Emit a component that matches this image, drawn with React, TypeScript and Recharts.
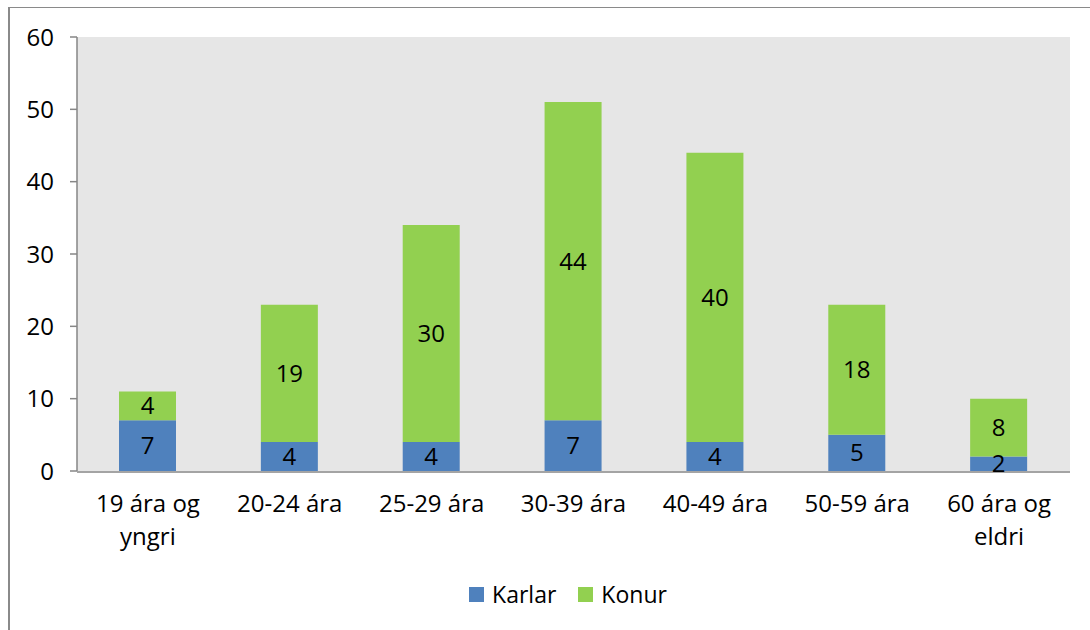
import { BarChart, Bar, XAxis, YAxis, CartesianGrid, Legend, LabelList } from 'recharts';

const FONT = '"Open Sans", "Noto Sans", sans-serif';
const AXIS_STROKE = '#868686';
const FS = 24;

const categories = [
  '19 ára og\nyngri',
  '20-24 ára',
  '25-29 ára',
  '30-39 ára',
  '40-49 ára',
  '50-59 ára',
  '60 ára og\neldri',
];
const karlar = [7, 4, 4, 7, 4, 5, 2];
const konur = [4, 19, 30, 44, 40, 18, 8];
const yTicks = [0, 10, 20, 30, 40, 50, 60];
const edgeTicks = [0, 1, 2, 3, 4, 5, 6, 7];

const SERIES = [
  { key: 'Karlar', color: '#4F81BD' },
  { key: 'Konur', color: '#92D050' },
];

const rows = categories.map((c, i) => ({ name: c, Karlar: karlar[i], Konur: konur[i] }));

// category labels, split on newline, no tick marks (those come from the edge axis)
function CatTick({ x, y, payload }: any) {
  const lines = String(payload.value).split('\n');
  return (
    <text x={x} y={y} textAnchor="middle" fill="#000" fontSize={FS} fontFamily={FONT}>
      {lines.map((l, i) => (
        <tspan key={i} x={x} dy={i === 0 ? 41 : 33}>
          {l}
        </tspan>
      ))}
    </text>
  );
}

function LegendBox() {
  return (
    <div style={{ display: 'flex', justifyContent: 'center', alignItems: 'center', fontFamily: FONT, fontSize: 23, color: '#000' }}>
      {SERIES.map((s, i) => (
        <div key={s.key} style={{ display: 'flex', alignItems: 'center', marginLeft: i ? 22 : 0 }}>
          <span style={{ width: 15, height: 15, background: s.color, display: 'inline-block', marginRight: 8 }} />
          <span>{s.key}</span>
        </div>
      ))}
    </div>
  );
}

export default function App() {
  return (
    <div
      style={{
        position: 'absolute',
        left: 8,
        top: 7,
        width: 1100,
        height: 640,
        borderTop: '1px solid #8a8a8a',
        borderLeft: '2px solid #8a8a8a',
        background: '#fff',
        fontFamily: FONT,
      }}
    >
      <BarChart
        width={1080}
        height={620}
        data={rows}
        margin={{ top: 29, right: 20, bottom: 155, left: 7 }}
        barSize={57}
        style={{ fontFamily: FONT }}
      >
        <CartesianGrid fill="#e6e6e6" horizontal={false} vertical={false} />
        <XAxis
          xAxisId="edge"
          type="number"
          domain={[0, 7]}
          ticks={edgeTicks}
          allowDataOverflow
          height={1}
          tick={false}
          tickSize={8}
          stroke={AXIS_STROKE}
          axisLine={{ stroke: AXIS_STROKE, strokeWidth: 1.5 }}
          tickLine={{ stroke: AXIS_STROKE, strokeWidth: 1.5 }}
        />
        <XAxis
          dataKey="name"
          height={1}
          axisLine={false}
          tickLine={false}
          tickSize={0}
          tickMargin={0}
          interval={0}
          tick={<CatTick />}
        />
        <YAxis
          width={60}
          domain={[0, 60]}
          ticks={yTicks}
          interval={0}
          tickSize={7}
          tickMargin={16}
          axisLine={{ stroke: AXIS_STROKE, strokeWidth: 1.5 }}
          tickLine={{ stroke: AXIS_STROKE, strokeWidth: 1.5 }}
          tick={{ fill: '#000', fontSize: FS, fontFamily: FONT }}
        />
        <Legend
          verticalAlign="middle"
          align="center"
          wrapperStyle={{ top: 570, left: 18, width: 1080 }}
          content={<LegendBox />}
        />
        {SERIES.map((s) => (
          <Bar key={s.key} dataKey={s.key} stackId="a" fill={s.color} isAnimationActive={false}>
            <LabelList dataKey={s.key} position="center" fill="#000" fontSize={FS} fontFamily={FONT} />
          </Bar>
        ))}
      </BarChart>
    </div>
  );
}
